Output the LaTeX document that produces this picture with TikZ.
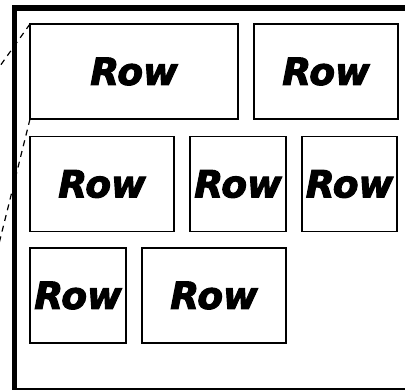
\documentclass[tikz,border=0pt]{standalone}
\usepackage{fontspec}
\newfontfamily\rowfont{DejaVu Sans}[FakeBold=2.8]
\usepackage{tikz}
\usetikzlibrary{positioning}

\tikzset{
  rowbox/.style={draw, line width=1.8pt, rectangle, inner sep=0pt, outer sep=0pt,
    minimum height=95pt, font=\rowfont\bfseries\itshape\fontsize{37.5}{37.5}\selectfont},
  zoomline/.style={line width=1.2pt, dash pattern=on 6pt off 5pt}
}

\begin{document}
\begin{tikzpicture}[x=1pt, y=-1pt]
    \useasboundingbox (0,0) rectangle (405,390);
    \clip (0,0) rectangle (405,390);

    % frame
    \draw[line width=6pt] (12,8) -- (412,8);
    \draw[line width=5pt] (14.5,5.5) -- (14.5,389);
    \draw[line width=1.6pt] (12,389) -- (412,389);

    % first row
    \node[rowbox, minimum width=208pt, anchor=north west] (r1a) at (30,24) {Row};
    \node[rowbox, minimum width=144pt, right=16pt of r1a] (r1b) {Row};

    % second row
    \node[rowbox, minimum width=144pt, anchor=north west] (r2a) at (30,136.5) {Row};
    \node[rowbox, minimum width=96pt, right=16pt of r2a] (r2b) {Row};
    \node[rowbox, minimum width=95pt, right=16pt of r2b] (r2c) {Row};

    % third row
    \node[rowbox, minimum width=96pt, anchor=north west] (r3a) at (30,248) {Row};
    \node[rowbox, minimum width=144pt, right=16pt of r3a] (r3b) {Row};

    % zoom lines
    \coordinate (zoomtop) at (-10,80);
    \coordinate (zoombot) at (-10,280);
    \draw[zoomline] (r1a.north west) -- (zoomtop);
    \draw[zoomline] (r1a.south west) -- (zoombot);
\end{tikzpicture}
\end{document}
